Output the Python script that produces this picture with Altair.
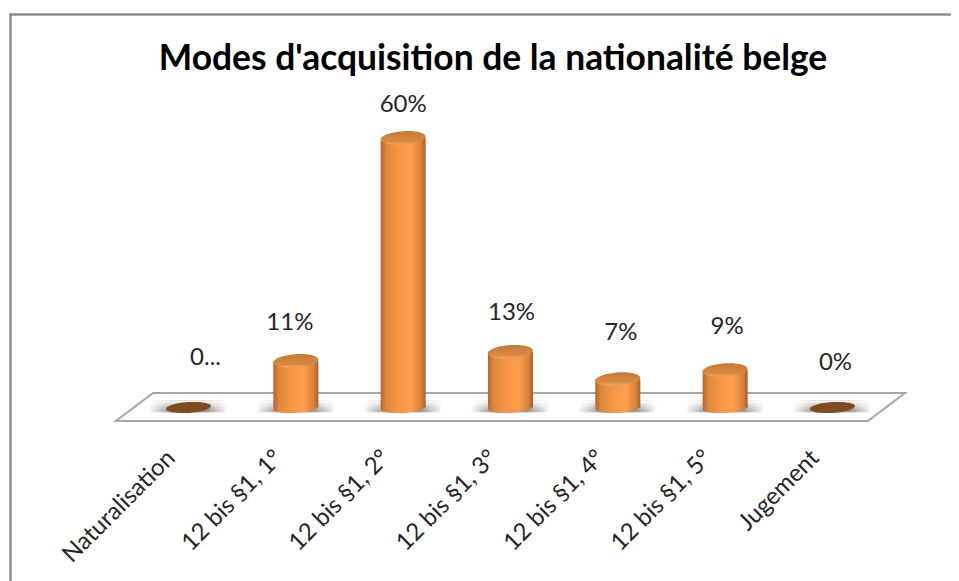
import altair as alt
import pandas as pd

TITLE = "Modes d'acquisition de la nationalité belge"
categories = ["Naturalisation", "12 bis §1, 1°", "12 bis §1, 2°", "12 bis §1, 3°",
              "12 bis §1, 4°", "12 bis §1, 5°", "Jugement"]
values = [0, 11, 60, 13, 7, 9, 0]
labels = ["0...", "11%", "60%", "13%", "7%", "9%", "0%"]

df = pd.DataFrame({"cat": categories, "value": values, "label": labels})

FONT = "Lato"
W, H = 943, 573
x_enc = alt.X("cat:N", sort=categories,
              scale=alt.Scale(domain=categories, range=[126.85, 878.15], paddingInner=0, paddingOuter=0),
              axis=alt.Axis(title=None, domain=False, ticks=False, grid=False, labelAngle=-45,
                            labelAlign="right", labelBaseline="middle", labelFont=FONT, labelFontSize=24,
                            labelColor="#262626", labelOffset=-17, labelPadding=0, offset=-127,
                            labelLimit=300))
y_scale = alt.Scale(domain=[0, 60], range=[403, 130])
y_enc = alt.Y("value:Q", scale=y_scale, axis=None, stack=None)
base = alt.Chart(df)
pos = base.transform_filter("datum.value > 0")

ELL = "M-0.9976,0.0698A1,{r},-4,1,1,0.9976,-0.0698A1,{r},-4,1,1,-0.9976,0.0698Z"
SHADOW = "M-0.92,-0.16L1,-0.16L0.92,0.14L-1,0.14Z"


def grad(stops, horizontal=True):
    return alt.Gradient(
        gradient="linear",
        stops=[alt.GradientStop(color=c, offset=o) for o, c in stops],
        x1=0, y1=0, x2=1 if horizontal else 0, y2=0 if horizontal else 1,
    )


side = grad([(0, "#b0652b"), (0.12, "#dd863d"), (0.4, "#f79646"), (0.68, "#fd9e4e"),
             (0.9, "#d98139"), (1, "#a65e28")])
cap = grad([(0, "#c67a38"), (0.75, "#d98a42"), (0.92, "#f3a058"), (1, "#f79646")], horizontal=False)
shadow = grad([(0, "#ffffff"), (0.28, "#8e8e8e"), (0.72, "#8e8e8e"), (1, "#ffffff")])
shadow_fade = grad([(0, "rgba(255,255,255,1)"), (0.55, "rgba(255,255,255,0.35)"),
                    (0.85, "rgba(255,255,255,0)"), (1, "rgba(255,255,255,0.5)")], horizontal=False)

border_left = alt.Chart(df.head(1)).mark_rule(color="#8c8c8c", strokeWidth=2.5).encode(
    x=alt.value(2.5), y=alt.value(5.5), y2=alt.value(H))
border_top = alt.Chart(df.head(1)).mark_rule(color="#8c8c8c", strokeWidth=2.5).encode(
    x=alt.value(1.5), x2=alt.value(W), y=alt.value(6.5))

floor = alt.Chart(df.head(1)).mark_point(
    shape="M-0.906,-0.0355L1,-0.0355L0.906,0.0355L-1,0.0355Z", size=622521,
    fill="#ffffff", stroke="#a6a6a6", strokeWidth=2, opacity=1, filled=False,
).encode(x=alt.value(502.5), y=alt.value(399))

shadows = base.mark_point(
    shape=SHADOW, size=6400, filled=True, fill=shadow, strokeWidth=0, opacity=1,
).encode(x=x_enc, y=alt.value(399))
shadow_tops = base.mark_point(
    shape=SHADOW, size=6800, filled=True, fill=shadow_fade, strokeWidth=0, opacity=1,
).encode(x=x_enc, y=alt.value(399))

flat = base.transform_filter("datum.value == 0").mark_point(
    shape=ELL.format(r=0.24), size=2025, filled=True, fill="#7f4b20", strokeWidth=0, opacity=1, yOffset=-3.5,
).encode(x=x_enc, y=y_enc)

bottoms = pos.mark_point(
    shape=ELL.format(r=0.24), size=2025, filled=True, fill=side, strokeWidth=0, opacity=1,
).encode(x=x_enc, y=alt.value(399.5))

bars = pos.mark_bar(size=45, fill=side, strokeWidth=0).encode(x=x_enc, y=y_enc, y2=alt.value(399.5))

tops = pos.mark_point(
    shape=ELL.format(r=0.3), size=2025, filled=True, fill=cap, strokeWidth=0, opacity=1,
).encode(x=x_enc, y=y_enc)

label_nudges = {
    "Naturalisation": (17, -53), "12 bis §1, 1°": (-6, -38), "12 bis §1, 2°": (0, -33),
    "12 bis §1, 3°": (1, -39), "12 bis §1, 4°": (3, -46), "12 bis §1, 5°": (2, -43), "Jugement": (3, -48),
}
text_layers = [
    base.transform_filter(alt.datum.cat == c).mark_text(
        font=FONT, fontSize=24, color="#262626", dx=d[0], dy=d[1],
    ).encode(x=x_enc, y=y_enc, text="label:N")
    for c, d in label_nudges.items()
]

chart = alt.layer(border_left, border_top, floor, shadows, shadow_tops, flat, bottoms, bars, tops,
                  *text_layers).properties(
    width=W, height=H, padding=0, background="#ffffff",
    autosize=alt.AutoSizeParams(type="none"),
    title=alt.TitleParams(text=TITLE, font=FONT, fontSize=35.4, fontWeight="bold", color="#000000",
                          anchor="middle", dx=13.5, offset=-104, baseline="bottom"),
).configure_view(stroke=None)

chart.save("out.html", embed_options={"renderer": "svg", "actions": False})
